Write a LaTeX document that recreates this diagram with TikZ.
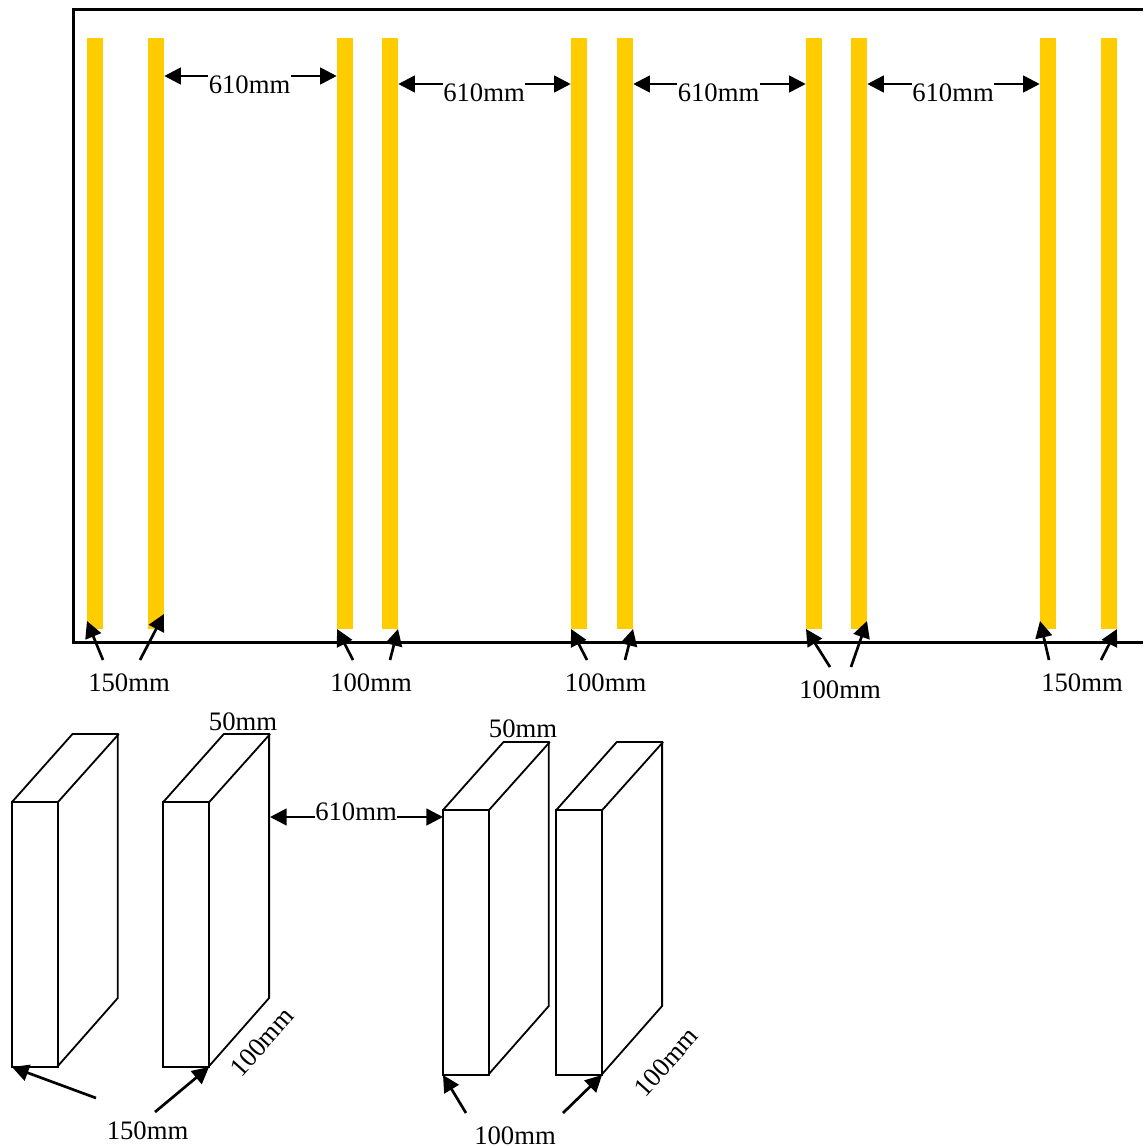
\documentclass[tikz,border=0pt]{standalone}
\usepackage{fontspec}
\setmainfont{Liberation Serif}
\usetikzlibrary{arrows.meta}
\tikzset{
  bar/.style={fill=barcol,draw=none,inner sep=0pt,minimum width=12pt,minimum height=443.25pt},
  arr/.style={line width=2pt,-{Triangle[length=12.5pt,width=12.5pt]},shorten >=0pt},
  frameline/.style={line width=2pt},
  boxline/.style={line width=1.35pt,line join=miter},
  lab/.style={inner sep=0pt,font=\fontsize{20}{20}\selectfont}
}
\definecolor{barcol}{RGB}{255,204,0}
\begin{document}
\begin{tikzpicture}[x=0.75pt,y=-0.75pt]
\useasboundingbox (0,0) rectangle (1143,1146);
\clip (0,0) rectangle (1143,1146);
% frame
\draw[frameline] (1143,9.7) -- (73.7,9.7) -- (73.7,642.5) -- (1143,642.5);
% bars
\node[bar] (b1) at (95,333.5) {};
\node[bar] (b2) at (156,333.5) {};
\node[bar] (b3) at (345,333.5) {};
\node[bar] (b4) at (390,333.5) {};
\node[bar] (b5) at (579,333.5) {};
\node[bar] (b6) at (625,333.5) {};
\node[bar] (b7) at (814,333.5) {};
\node[bar] (b8) at (859,333.5) {};
\node[bar] (b9) at (1048,333.5) {};
\node[bar] (b10) at (1109,333.5) {};
% top dimensions
\node[lab] (d1) at (249.5,85) {610mm};
\node[lab] (d2) at (484,93) {610mm};
\node[lab] (d3) at (718.5,93) {610mm};
\node[lab] (d4) at (953,93) {610mm};
\draw[arr] (d1.west |- 0,76) -- (b2.east |- 0,76);
\draw[arr] (d1.east |- 0,76) -- (b3.west |- 0,76);
\draw[arr] (d2.west |- 0,84) -- (b4.east |- 0,84);
\draw[arr] (d2.east |- 0,84) -- (b5.west |- 0,84);
\draw[arr] (d3.west |- 0,84) -- (b6.east |- 0,84);
\draw[arr] (d3.east |- 0,84) -- (b7.west |- 0,84);
\draw[arr] (d4.west |- 0,84) -- (b8.east |- 0,84);
\draw[arr] (d4.east |- 0,84) -- (b9.west |- 0,84);
% bottom labels
\node[lab] (w1) at (129,683) {150mm};
\node[lab] (w2) at (371,683) {100mm};
\node[lab] (w3) at (605.5,683) {100mm};
\node[lab] (w4) at (840,690) {100mm};
\node[lab] (w5) at (1082,683) {150mm};
\coordinate (a1) at (103,660);  \coordinate (t1) at (87,621);
\coordinate (a2) at (140,660);  \coordinate (t2) at (164,614);
\coordinate (a3) at (353,660);  \coordinate (t3) at (337,629);
\coordinate (a4) at (390,660);  \coordinate (t4) at (398,629);
\coordinate (a5) at (587,660);  \coordinate (t5) at (571,629);
\coordinate (a6) at (625,660);  \coordinate (t6) at (633,629);
\coordinate (a7) at (830,667);  \coordinate (t7) at (806,629);
\coordinate (a8) at (851,667);  \coordinate (t8) at (867,621);
\coordinate (a9) at (1049,660); \coordinate (t9) at (1040,621);
\coordinate (a10) at (1101,660);\coordinate (t10) at (1117,629);
\foreach \i in {1,...,10} {\draw[arr] (a\i) -- (t\i);}
% boxes
\foreach \bx/\by in {12/802,163.3/802,443/810,556.3/810} {
  \draw[boxline] (\bx,\by) rectangle ++(46,265);
  \draw[boxline] (\bx,\by) -- ++(60.5,-68) -- ++(45.3,0) -- ++(0,264) -- ++(-60.8,69);
  \draw[boxline] (\bx+46,\by) -- ++(60.8,-68);
}
% lower labels
\node[lab] (m1) at (243,721.5) {50mm};
\node[lab] (m2) at (523,728.5) {50mm};
\node[lab] (m3) at (356,811.5) {610mm};
\node[lab,rotate=48] (m4) at (262,1042) {100mm};
\node[lab,rotate=48] (m5) at (666,1062) {100mm};
\node[lab] (m6) at (147.5,1131) {150mm};
\node[lab] (m7) at (515,1136) {100mm};
\coordinate (c1) at (270,817);
\coordinate (c2) at (443,817);
\draw[arr] (m3.west |- c1) -- (c1);
\draw[arr] (m3.east |- c2) -- (c2);
\coordinate (e1) at (96,1098);  \coordinate (f1) at (12,1067);
\coordinate (e2) at (155,1112); \coordinate (f2) at (209,1067);
\coordinate (e3) at (466,1113); \coordinate (f3) at (443,1075);
\coordinate (e4) at (563,1113); \coordinate (f4) at (602,1075);
\foreach \i in {1,...,4} {\draw[arr] (e\i) -- (f\i);}
\end{tikzpicture}
\end{document}
